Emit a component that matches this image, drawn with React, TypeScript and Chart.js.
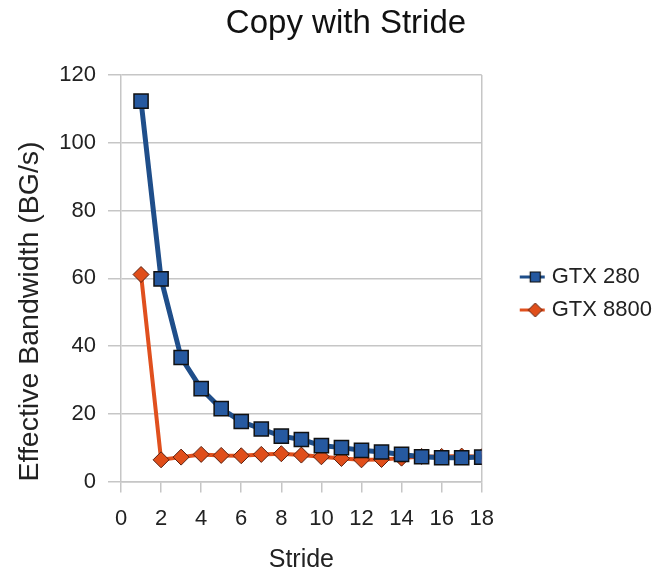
import React, { useEffect, useRef } from "react";
import { Chart, registerables } from "chart.js";

Chart.register(...registerables);

const strides = [1, 2, 3, 4, 5, 6, 7, 8, 9, 10, 11, 12, 13, 14, 15, 16, 17, 18];
const gtx280 = [112.3, 59.8, 36.6, 27.4, 21.5, 17.7, 15.5, 13.4, 12.4, 10.6, 10.0, 9.2, 8.7, 8.0, 7.3, 7.0, 7.0, 7.2];
const gtx8800 = [61.1, 6.4, 7.2, 8.0, 7.7, 7.6, 8.0, 8.2, 7.8, 7.3, 6.8, 6.4, 6.5, 6.9, 7.4, 7.4, 7.5, 7.3];
const seriesNames = ["GTX 280", "GTX 8800"];
const chartTitle = "Copy with Stride";
const xTitle = "Stride";
const yTitle = "Effective Bandwidth (BG/s)";

const BLUE_LINE = "#1F4E8A";
const BLUE_FILL = "#2659A0";
const ORANGE_LINE = "#E0501E";
const ORANGE_FILL = "#E04E1A";
const GRID = "#c6c6c6";
const FONT = "'Liberation Sans', Arial, Helvetica, sans-serif";
const PLOT_RIGHT = 482;

// legend icon: short line with the series marker, placed in the right part of the image
function legendIcon(kind: "square" | "diamond"): HTMLCanvasElement {
  const c = document.createElement("canvas");
  c.width = 60;
  c.height = 20;
  const g = c.getContext("2d")!;
  const cx = 48.5;
  const cy = 10;
  g.strokeStyle = kind === "square" ? BLUE_LINE : ORANGE_LINE;
  g.lineWidth = 3;
  g.beginPath();
  g.moveTo(33, cy);
  g.lineTo(58, cy);
  g.stroke();
  g.beginPath();
  if (kind === "square") {
    g.rect(cx - 5, cy - 5, 10, 10);
    g.fillStyle = BLUE_FILL;
    g.fill();
    g.strokeStyle = "#111";
    g.lineWidth = 1.2;
    g.stroke();
  } else {
    g.moveTo(cx - 7, cy);
    g.lineTo(cx, cy - 7);
    g.lineTo(cx + 7, cy);
    g.lineTo(cx, cy + 7);
    g.closePath();
    g.fillStyle = ORANGE_FILL;
    g.fill();
    g.strokeStyle = "#5a2010";
    g.lineWidth = 1;
    g.stroke();
  }
  return c;
}

export default function App() {
  const ref = useRef<HTMLCanvasElement | null>(null);

  useEffect(() => {
    if (!ref.current) return;
    const icons = [legendIcon("square"), legendIcon("diamond")];
    const chart = new Chart(ref.current, {
      type: "line",
      data: {
        datasets: [
          {
            label: seriesNames[0],
            data: strides.map((s, i) => ({ x: s, y: gtx280[i] })),
            borderColor: BLUE_LINE,
            backgroundColor: BLUE_FILL,
            borderWidth: 5,
            pointStyle: "rect",
            pointRadius: 10,
            pointBackgroundColor: BLUE_FILL,
            pointBorderColor: "#111",
            pointBorderWidth: 1.5,
            tension: 0,
          },
          {
            label: seriesNames[1],
            data: strides.map((s, i) => ({ x: s, y: gtx8800[i] })),
            borderColor: ORANGE_LINE,
            backgroundColor: ORANGE_FILL,
            borderWidth: 4,
            pointStyle: "rectRot",
            pointRadius: 8,
            pointBackgroundColor: ORANGE_FILL,
            pointBorderColor: "#5a2010",
            pointBorderWidth: 1,
            tension: 0,
          },
        ],
      },
      options: {
        responsive: false,
        animation: false,
        layout: { padding: { left: 30, right: 6, top: 0, bottom: 0 } },
        plugins: {
          title: {
            display: true,
            text: chartTitle,
            color: "#111",
            font: { family: FONT, size: 33, weight: "normal" },
            padding: { top: 4, bottom: 31.4 },
          },
          legend: {
            position: "right",
            maxWidth: 300,
            title: { display: true, text: " ", font: { size: 10 }, padding: { top: 1, bottom: 1 } },
            labels: {
              usePointStyle: true,
              pointStyleWidth: 48,
              padding: 11,
              color: "#222",
              font: { family: FONT, size: 22 },
              generateLabels: (ch: any) => {
                const items = Chart.defaults.plugins.legend.labels.generateLabels(ch);
                return items.map((it: any, i: number) => ({ ...it, pointStyle: icons[i] }));
              },
            },
          },
          tooltip: { enabled: false },
        },
        scales: {
          x: {
            type: "linear",
            min: 0,
            max: 18,
            afterFit: (scale: any) => {
              scale.height = 91.5;
            },
            ticks: {
              stepSize: 2,
              color: "#222",
              padding: 13.3,
              font: { family: FONT, size: 22 },
            },
            grid: {
              color: (ctx: any) => (ctx.tick && ctx.tick.value === 18 ? GRID : "rgba(0,0,0,0)"),
              tickColor: GRID,
              tickLength: 11,
              lineWidth: 1.5,
            },
            border: { color: GRID, width: 1.5 },
            title: {
              display: true,
              text: xTitle,
              color: "#222",
              font: { family: FONT, size: 25 },
              padding: { top: 0, bottom: -2 },
            },
          },
          y: {
            min: 0,
            max: 120,
            afterFit: (scale: any) => {
              scale.width = 91;
            },
            ticks: {
              stepSize: 20,
              color: "#222",
              padding: 12,
              font: { family: FONT, size: 22 },
            },
            grid: {
              color: GRID,
              tickColor: GRID,
              tickLength: 13,
              lineWidth: 1.5,
            },
            border: { color: GRID, width: 1.5 },
            title: {
              display: true,
              text: yTitle,
              align: "start",
              color: "#222",
              font: { family: FONT, size: 28.5 },
              padding: { top: -17, bottom: 4 },
            },
          },
        },
      },
    });
    // nudge right padding so the plot area ends where the reference's does
    const diff = chart.chartArea.right - PLOT_RIGHT;
    if (Math.abs(diff) > 0.5) {
      (chart.options.layout as any).padding.right += diff;
      chart.update();
    }
    return () => chart.destroy();
  }, []);

  return (
    <div style={{ position: "absolute", left: 0, top: 0, width: 668, height: 573, background: "#fff" }}>
      <canvas ref={ref} width={668} height={573} style={{ width: 668, height: 573, display: "block" }} />
    </div>
  );
}
